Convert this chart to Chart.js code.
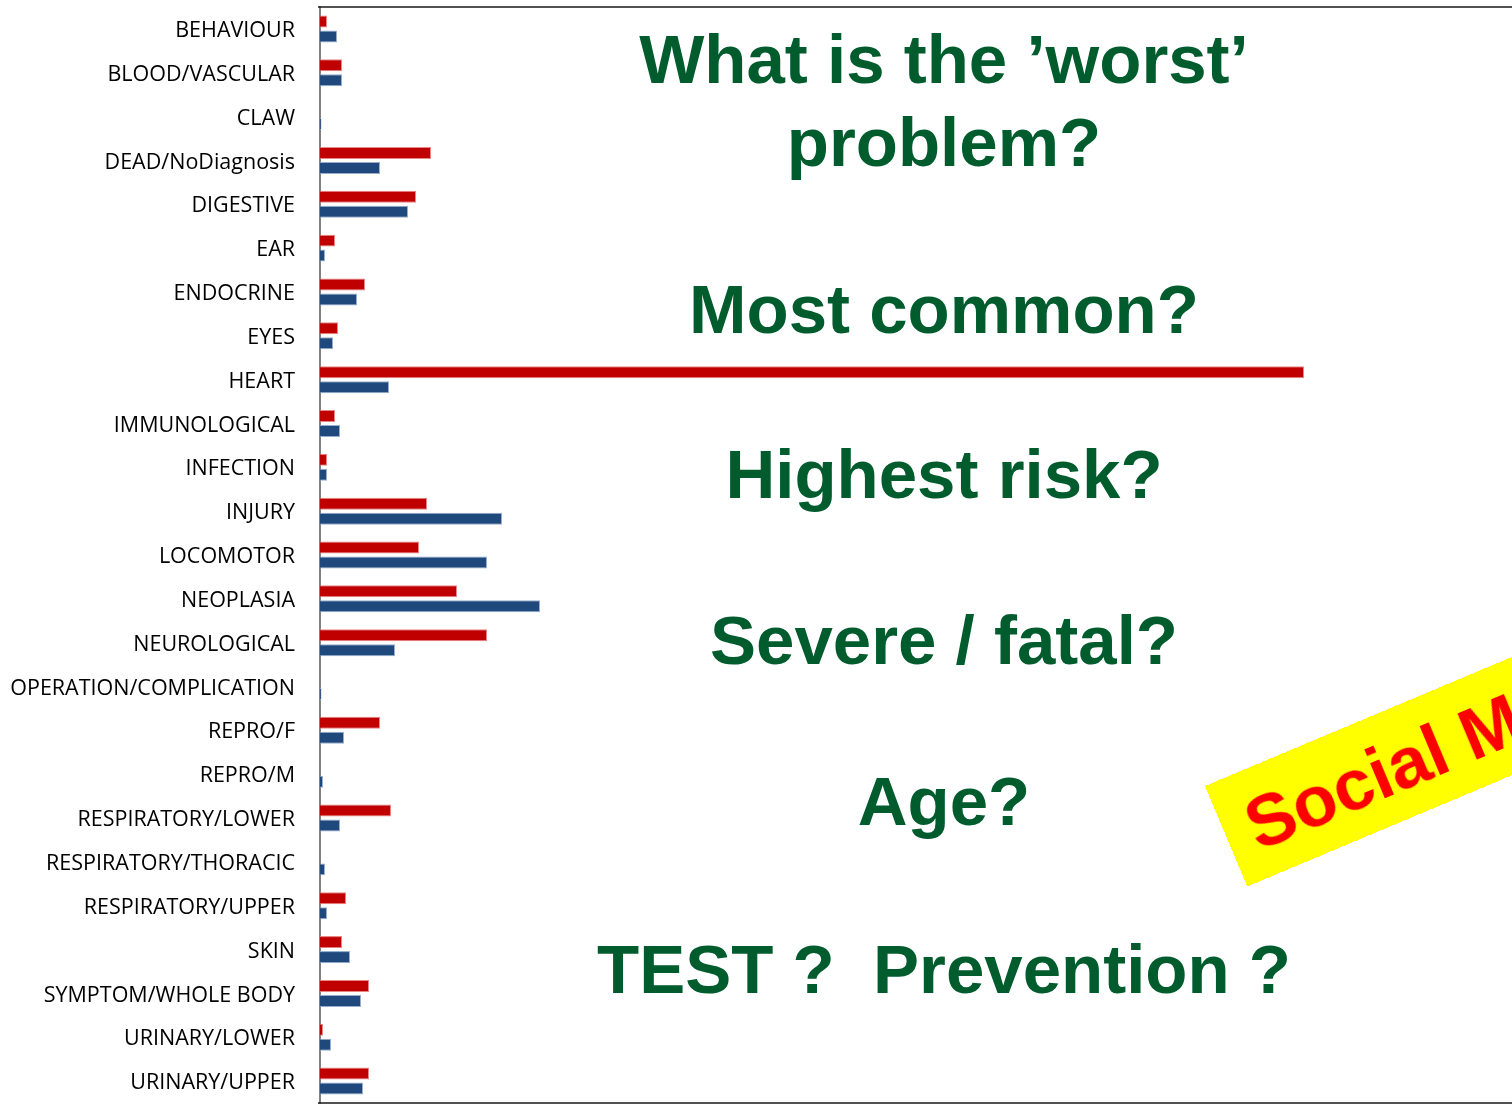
<!DOCTYPE html>
<html>
<head>
<meta charset="utf-8">
<script src="https://cdn.jsdelivr.net/npm/chart.js@4"></script>
<style>
  body { margin: 0; background: #fff; overflow: hidden; }
  #wrap { position: relative; width: 1512px; height: 1105px; overflow: hidden; }
  #chart { position: absolute; left: 0; top: 0; }
  .q {
    position: absolute; left: 944px; transform: translateX(-50%);
    white-space: nowrap; font-family: "Liberation Sans", Arial, sans-serif;
    font-weight: bold; font-size: 69px; line-height: 69px; color: #005C2D;
  }
  #social {
    position: absolute; left: 1205px; top: 786px; width: 520px; height: 109px;
    transform-origin: 0 0; transform: rotate(-22.8deg); background: #FFFF00;
    color: #FF0000; font-family: "Liberation Sans", Arial, sans-serif; font-weight: bold;
    font-size: 72px; line-height: 112px; padding-left: 24px; box-sizing: border-box;
    white-space: nowrap;
  }
</style>
</head>
<body>
<div id="wrap">
  <canvas id="chart" width="1512" height="1105"></canvas>
  <div class="q" style="top:25px">What is the ’worst’</div>
  <div class="q" style="top:108px">problem?</div>
  <div class="q" style="top:275px">Most common?</div>
  <div class="q" style="top:440px">Highest risk?</div>
  <div class="q" style="top:606px">Severe / fatal?</div>
  <div class="q" style="top:767px">Age?</div>
  <div class="q" style="top:935px">TEST ?&nbsp; Prevention ?</div>
  <div id="social">Social Media</div>
</div>
<script>
// --- Data ---
const categories = [
    "BEHAVIOUR", "BLOOD/VASCULAR", "CLAW", "DEAD/NoDiagnosis", "DIGESTIVE", "EAR",
    "ENDOCRINE", "EYES", "HEART", "IMMUNOLOGICAL", "INFECTION", "INJURY", "LOCOMOTOR",
    "NEOPLASIA", "NEUROLOGICAL", "OPERATION/COMPLICATION", "REPRO/F", "REPRO/M",
    "RESPIRATORY/LOWER", "RESPIRATORY/THORACIC", "RESPIRATORY/UPPER", "SKIN",
    "SYMPTOM/WHOLE BODY", "URINARY/LOWER", "URINARY/UPPER"
];

// arbitrary units
const redValues = [7, 22, 0, 111, 96, 15, 45, 18, 984, 15, 7, 107, 99, 137, 167, 0, 60, 0, 71, 0, 26, 22, 49, 3, 49];
const blueValues = [17, 22, 1.5, 60, 88, 5, 37, 13, 69, 20, 7, 182, 167, 220, 75, 1.5, 24, 3, 20, 5, 7, 30, 41, 11, 43];

const xMax = 1192;

// frame lines above and below the plot area
const frameLines = {
    id: "frameLines",
    afterDraw(chart) {
        const { ctx, chartArea } = chart;
        ctx.save();
        ctx.strokeStyle = "#1a1a1a";
        ctx.lineWidth = 1.5;
        ctx.beginPath();
        ctx.moveTo(chartArea.left - 2, chartArea.top);
        ctx.lineTo(chartArea.right, chartArea.top);
        ctx.moveTo(chartArea.left - 2, chartArea.bottom);
        ctx.lineTo(chartArea.right, chartArea.bottom);
        ctx.stroke();
        ctx.restore();
    }
};

new Chart(document.getElementById("chart").getContext("2d"), {
    type: "bar",
    data: {
        labels: categories,
        datasets: [{
            label: "Series 1",
            data: redValues,
            backgroundColor: "#C00000",
            borderColor: "rgba(230,120,120,0.9)",
            borderWidth: 1
        }, {
            label: "Series 2",
            data: blueValues,
            backgroundColor: "#1F497D",
            borderColor: "rgba(140,165,200,0.9)",
            borderWidth: 1
        }]
    },
    options: {
        indexAxis: "y",
        responsive: false,
        animation: false,
        categoryPercentage: 0.684,
        barPercentage: 0.8,
        layout: { padding: { top: 7, bottom: 2, left: 0, right: 0 } },
        plugins: {
            legend: { display: false },
            tooltip: { enabled: false }
        },
        scales: {
            x: {
                display: false,
                min: 0,
                max: xMax
            },
            y: {
                afterFit(scale) {
                    scale.width = 320;
                    scale.paddingTop = 0;
                    scale.paddingBottom = 0;
                },
                grid: { display: false, drawTicks: false },
                border: { color: "#808080", width: 2 },
                ticks: {
                    padding: 25,
                    labelOffset: 2,
                    color: "#000",
                    font: { family: "'Open Sans', sans-serif", size: 21.5 }
                }
            }
        }
    },
    plugins: [frameLines]
});
</script>
</body>
</html>
